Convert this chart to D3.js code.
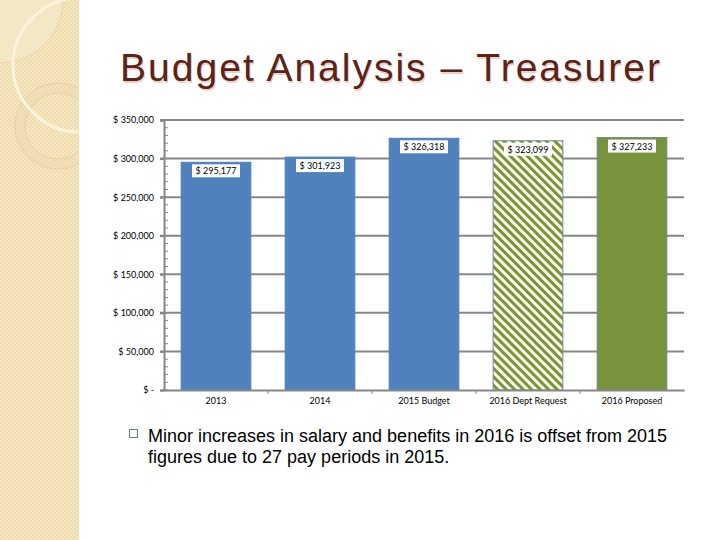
<!DOCTYPE html>
<html>
<head>
<meta charset="utf-8">
<script src="https://cdnjs.cloudflare.com/ajax/libs/d3/7.8.5/d3.min.js"></script>
<style>
	body { margin: 0; background: #fff; }
	svg { display: block; }
</style>
</head>
<body>
<script>
// chart data
var categories = ["2013", "2014", "2015 Budget", "2016 Dept Request", "2016 Proposed"];
var amounts = [295177, 301923, 326318, 323099, 327233];
var barStyles = ["blue", "blue", "blue", "hatch", "green"];
var yTicks = [0, 50000, 100000, 150000, 200000, 250000, 300000, 350000];
var bulletLines = [
	"Minor increases in salary and benefits in 2016 is offset from 2015",
	"figures due to 27 pay periods in 2015."
];

var W = 720, H = 540;
var svg = d3.select("body").append("svg").attr("width", W).attr("height", H);
var defs = svg.append("defs");

// side panel checker
var chk = defs.append("pattern").attr("id", "chk")
	.attr("width", 4).attr("height", 4).attr("patternUnits", "userSpaceOnUse");
chk.append("rect").attr("width", 4).attr("height", 4).attr("fill", "#f0dcaa");
chk.append("rect").attr("width", 2).attr("height", 2).attr("fill", "#f6e7c4");
chk.append("rect").attr("x", 2).attr("y", 2).attr("width", 2).attr("height", 2).attr("fill", "#f6e7c4");

// hatch for dept request bar (stripes running top-left to bottom-right)
var hatch = defs.append("pattern").attr("id", "hatch")
	.attr("width", 6).attr("height", 6).attr("patternUnits", "userSpaceOnUse")
	.attr("patternTransform", "rotate(45)");
hatch.append("rect").attr("width", 6).attr("height", 6).attr("fill", "#fbfde6");
hatch.append("rect").attr("width", 6).attr("height", 3).attr("fill", "#77933c");

defs.append("clipPath").attr("id", "panelClip")
	.append("rect").attr("width", 79).attr("height", H);

var panel = svg.append("g").attr("clip-path", "url(#panelClip)");
panel.append("rect").attr("width", 79).attr("height", H).attr("fill", "url(#chk)");
panel.append("circle").attr("cx", 0).attr("cy", 0).attr("r", 63)
	.attr("fill", "#f7ebd0").attr("fill-opacity", 0.6)
	.attr("stroke", "#e8d3a3").attr("stroke-width", 0.8);
panel.append("circle").attr("cx", 58).attr("cy", 126).attr("r", 38)
	.attr("fill", "none").attr("stroke", "#ecdab0").attr("stroke-width", 10).attr("stroke-opacity", 0.6);
panel.append("circle").attr("cx", 58).attr("cy", 126).attr("r", 33)
	.attr("fill", "none").attr("stroke", "#e3cc98").attr("stroke-width", 0.8);
panel.append("circle").attr("cx", 58).attr("cy", 126).attr("r", 43)
	.attr("fill", "none").attr("stroke", "#e3cc98").attr("stroke-width", 0.8);
panel.append("circle").attr("cx", 80).attr("cy", 65).attr("r", 67)
	.attr("fill", "none").attr("stroke", "#fbf3dc").attr("stroke-width", 3);

// title
var title = "Budget Analysis \u2013 Treasurer";
function addTitle(dx, dy, color) {
	svg.append("text").attr("x", 391 + dx).attr("y", 81 + dy)
		.attr("text-anchor", "middle")
		.style("font-family", "'Liberation Sans', Arial, sans-serif")
		.style("font-size", "39px").style("letter-spacing", "2px")
		.attr("fill", color).text(title);
}
addTitle(1, 1.5, "#f0cfc6");
addTitle(0, 0, "#5a2318");

// chart
var plotL = 164, plotR = 684, plotT = 120, plotB = 390;
var x = d3.scaleBand().domain(categories).range([plotL, plotR]).paddingInner(0.33).paddingOuter(0.165);
var y = d3.scaleLinear().domain([0, 350000]).range([plotB, plotT]);

var fmt = function(v) { return v === 0 ? "$ -" : "$ " + d3.format(",")(v); };
var smallFont = "Lato, 'Open Sans', sans-serif";

// gridlines
svg.append("g").selectAll("line").data(yTicks.slice(1)).enter().append("line")
	.attr("x1", plotL - 4).attr("x2", plotR)
	.attr("y1", function(d) { return y(d); }).attr("y2", function(d) { return y(d); })
	.attr("stroke", "#878787").attr("stroke-width", 2);

// minor ticks
svg.append("g").selectAll("line").data(d3.range(0, 350001, 10000)).enter().append("line")
	.attr("x1", plotL).attr("x2", plotL + 4)
	.attr("y1", function(d) { return y(d); }).attr("y2", function(d) { return y(d); })
	.attr("stroke", "#878787").attr("stroke-width", 1);

// bars
var fills = { blue: "#4f81bd", green: "#77933c", hatch: "url(#hatch)" };
svg.append("g").selectAll("rect").data(amounts).enter().append("rect")
	.attr("x", function(d, i) { return x(categories[i]); })
	.attr("y", function(d) { return y(d); })
	.attr("width", x.bandwidth())
	.attr("height", function(d) { return plotB - y(d); })
	.attr("fill", function(d, i) { return fills[barStyles[i]]; })
	.attr("stroke", function(d, i) { return barStyles[i] === "blue" ? "#4f81bd" : "#71868f"; })
	.attr("stroke-width", 1);

// y axis
var yAxis = d3.axisLeft(y).tickValues(yTicks).tickFormat(fmt).tickSize(4).tickPadding(6);
var ya = svg.append("g").attr("transform", "translate(" + plotL + ",0)").call(yAxis);
ya.select(".domain").attr("stroke", "#878787").attr("stroke-width", 2);
ya.selectAll(".tick line").attr("stroke", "#878787").attr("stroke-width", 2);
ya.selectAll(".tick text").style("font-family", smallFont).style("font-size", "9px").attr("fill", "#000");

// x axis
var xa = svg.append("g").attr("transform", "translate(0," + plotB + ")")
	.call(d3.axisBottom(x).tickSize(0).tickPadding(8));
xa.select(".domain").attr("stroke", "#878787").attr("stroke-width", 2);
xa.selectAll(".tick text").style("font-family", smallFont).style("font-size", "9px").attr("fill", "#000");
xa.append("g").selectAll("line").data(categories.slice(1)).enter().append("line")
	.attr("x1", function(d) { return x(d) - x.step() * x.paddingInner() / 2; })
	.attr("x2", function(d) { return x(d) - x.step() * x.paddingInner() / 2; })
	.attr("y1", 0).attr("y2", 4).attr("stroke", "#878787").attr("stroke-width", 1);

// value labels
var lbl = svg.append("g").selectAll("g").data(amounts).enter().append("g")
	.attr("transform", function(d, i) {
		return "translate(" + (x(categories[i]) + x.bandwidth() / 2) + "," + (y(d) + 2) + ")";
	});
lbl.append("rect").attr("x", -24).attr("y", 0).attr("width", 48).attr("height", 13).attr("fill", "#fff");
lbl.append("text").attr("y", 10).attr("text-anchor", "middle")
	.style("font-family", smallFont).style("font-size", "9px").attr("fill", "#000")
	.text(function(d) { return fmt(d); });

// bullet text
svg.append("rect").attr("x", 129.5).attr("y", 429.5).attr("width", 8).attr("height", 8)
	.attr("fill", "none").attr("stroke", "#6a7d8e").attr("stroke-width", 1);
svg.append("g").selectAll("text").data(bulletLines).enter().append("text")
	.attr("x", 148).attr("y", function(d, i) { return 442 + i * 21; })
	.style("font-family", "'Liberation Sans', Arial, sans-serif").style("font-size", "18px")
	.attr("fill", "#000").text(function(d) { return d; });
</script>
</body>
</html>
